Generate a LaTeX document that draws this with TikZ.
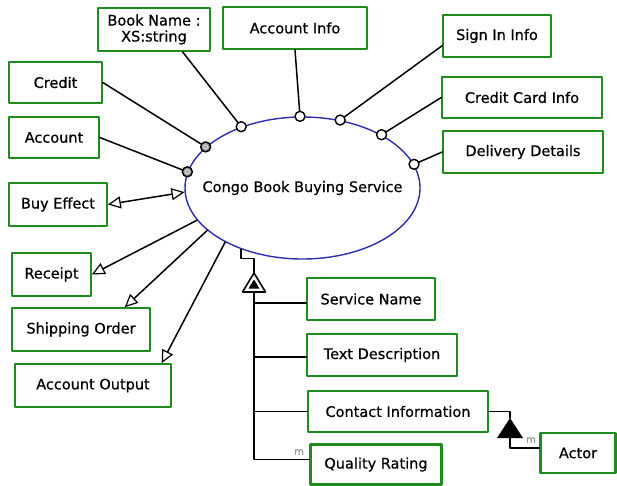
\documentclass[tikz,border=0pt]{standalone}
\usepackage{fontspec}
\newfontfamily\diagfont[FakeBold=0.6]{DejaVu Sans}
\usetikzlibrary{arrows.meta, shapes.geometric, calc}
\definecolor{boxgreen}{RGB}{30,140,30}
\definecolor{ovalblue}{RGB}{45,45,175}
\tikzset{
    box/.style={draw=boxgreen, line width=1.6pt, fill=white, inner sep=0pt,
        font=\diagfont\fontsize{14.5}{16}\selectfont, align=center},
    thickbox/.style={box, line width=2.6pt},
    port/.style={draw=black, line width=1.4pt, fill=white},
    gport/.style={port, fill=gray!75},
    link/.style={draw=black, line width=1.5pt},
    otip/.tip={Triangle[open, length=13pt, width=12pt, line width=1.2pt]},
    flow/.style={link, -otip},
    mlabel/.style={text=gray!80, font=\diagfont\fontsize{10}{11}\selectfont, inner sep=0pt},
}
\begin{document}
\begin{tikzpicture}[x=1pt, y=-1pt, line cap=round, line join=round]
    \useasboundingbox (0,0) rectangle (617,485);
    % the service
    \node[ellipse, draw=ovalblue, line width=1.4pt, minimum width=235pt, minimum height=142pt,
        inner sep=0pt] (svc) at (302.5,188) {};
    \node[font=\diagfont\fontsize{14.5}{16}\selectfont, inner sep=0pt] (svcname) at (svc.center) {Congo Book Buying Service};
    % inputs and properties round it
    \node[box, minimum width=112pt, minimum height=43pt] (bookname) at (154,29.5) {Book Name :\\XS:string};
    \node[box, minimum width=144pt, minimum height=42pt] (acctinfo) at (295,28) {Account Info};
    \node[box, minimum width=108pt, minimum height=42pt] (signin) at (497,36) {Sign In Info};
    \node[box, minimum width=160pt, minimum height=41pt] (ccinfo) at (522,97.5) {Credit Card Info};
    \node[box, minimum width=160pt, minimum height=42pt] (delivery) at (523,152) {Delivery Details};
    \node[box, minimum width=93pt, minimum height=41pt] (credit) at (55.5,82.5) {Credit};
    \node[box, minimum width=90pt, minimum height=41pt] (account) at (54,137.5) {Account};
    \node[box, minimum width=98pt, minimum height=43pt] (buyeffect) at (58,204.5) {Buy Effect};
    \node[box, minimum width=79pt, minimum height=43pt] (receipt) at (51.5,274.5) {Receipt};
    \node[box, minimum width=138pt, minimum height=43pt] (shiporder) at (81,329.5) {Shipping Order};
    \node[box, minimum width=156pt, minimum height=43pt] (acctout) at (93,385.5) {Account Output};
    % parts of the profile
    \node[box, minimum width=128pt, minimum height=42pt] (servname) at (371,299) {Service Name};
    \node[box, minimum width=150pt, minimum height=42pt] (textdesc) at (382,355) {Text Description};
    \node[box, minimum width=180pt, minimum height=41pt] (contact) at (398,411.5) {Contact Information};
    \node[thickbox, minimum width=131pt, minimum height=40pt] (quality) at (376,464.5) {Quality Rating};
    \node[thickbox, minimum width=75pt, minimum height=40pt] (actor) at (578,453) {Actor};
    % lines to the ports on the ellipse
    \draw[link] (credit.east) -- (svc.157);
    \draw[link] (account.east) -- (svc.172);
    \draw[link] (bookname.-38.5) -- (svc.135.7);
    \draw[link] (acctinfo.south) -- (svc.92);
    \draw[link] (signin.190) -- (svc.61.4);
    \draw[link] (ccinfo.west) -- (svc.34.2);
    \draw[link] (delivery.west) -- (svc.12.8);
    \foreach \a in {135.7, 92, 61.4, 34.2, 12.8}
        \draw[port] (svc.\a) circle[radius=5pt];
    \foreach \a in {157, 172} {
        \draw[gport] (svc.\a) circle[radius=5pt];
        \draw[gray!25, line width=0.9pt] (svc.\a) circle[radius=2pt];
    }
    % outputs
    \draw[link, otip-otip] (buyeffect.east) -- (svc.182.4);
    \draw[flow] (svc.197.9) -- (receipt.east);
    \draw[flow] (svc.204.7) -- (shiporder.27);
    \draw[flow] (svc.215) -- (acctout.18);
    % aggregation of the profile parts
    \coordinate (genTop) at (254,273);
    \coordinate (trunk) at (254,292);
    \draw[link] (svc.225.2) -- ++(0,9) -| (genTop);
    \draw[link, line width=1.6pt, fill=white] (genTop) -- (242.5,292) -- (265.5,292) -- cycle;
    \fill (254,279.5) -- (248.5,288.5) -- (259.5,288.5) -- cycle;
    \coordinate (snIn) at ([yshift=-4pt]servname.west);
    \coordinate (tdIn) at ([yshift=-2pt]textdesc.west);
    \coordinate (qrIn) at ([yshift=5pt]quality.west);
    \draw[link] (trunk) |- (qrIn);
    \draw[link] (trunk |- snIn) -- (snIn);
    \draw[link] (trunk |- tdIn) -- (tdIn);
    \draw[link] (trunk |- contact.west) -- (contact.west);
    \node[mlabel] (m1) at (299,452) {m};
    % contact to actor
    \coordinate (actTop) at (510,418);
    \coordinate (actBase) at (510,438);
    \coordinate (actIn) at ([yshift=5pt]actor.west);
    \draw[link] (contact.east) -| (actTop);
    \fill (actTop) -- (497,438) -- (523,438) -- cycle;
    \draw[link] (actBase) |- (actIn);
    \node[mlabel] (m2) at (531,440) {m};
\end{tikzpicture}
\end{document}
